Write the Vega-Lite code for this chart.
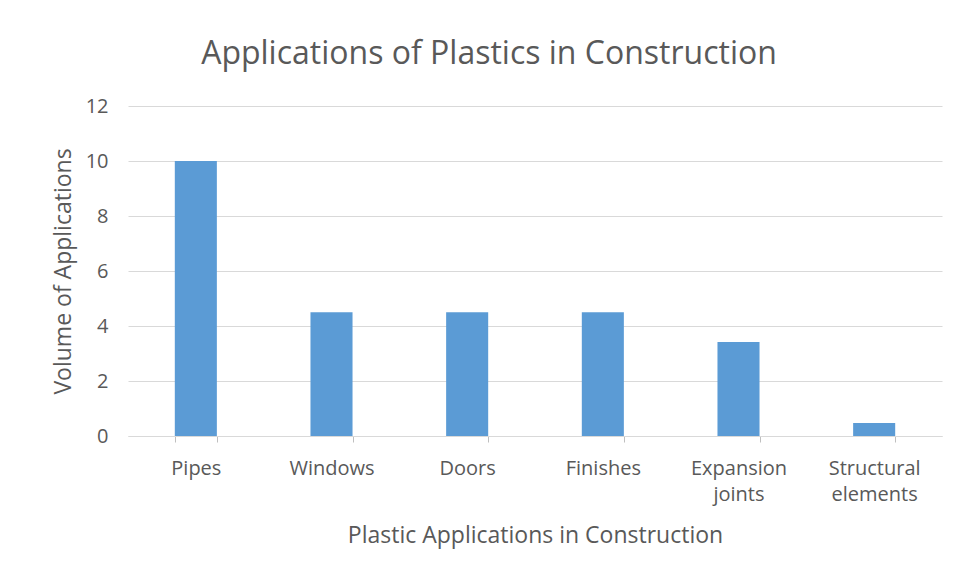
{
  "$schema": "https://vega.github.io/schema/vega-lite/v6.json",
  "width": 814,
  "height": 330,
  "autosize": {"type": "none"},
  "padding": {"left": 128, "top": 106, "right": 17, "bottom": 143},
  "background": "white",
  "title": {
    "text": "Applications of Plastics in Construction",
    "font": "Open Sans",
    "fontSize": 32,
    "fontWeight": "normal",
    "color": "#595959",
    "anchor": "middle",
    "offset": 25,
    "dx": -46
  },
  "data": {
    "values": [
      {"application": "Pipes", "volume": 10},
      {"application": "Windows", "volume": 4.5},
      {"application": "Doors", "volume": 4.5},
      {"application": "Finishes", "volume": 4.5},
      {"application": "Expansion joints", "volume": 3.42},
      {"application": "Structural elements", "volume": 0.47}
    ]
  },
  "mark": {"type": "bar", "color": "#5b9bd5"},
  "encoding": {
    "x": {
      "field": "application",
      "type": "nominal",
      "sort": null,
      "scale": {"paddingInner": 0.69, "paddingOuter": 0.345},
      "axis": {
        "title": "Plastic Applications in Construction",
        "titleFont": "Open Sans",
        "titleFontSize": 23,
        "titleFontWeight": "normal",
        "titleColor": "#595959",
        "titlePadding": 20,
        "labelFont": "Open Sans",
        "labelFontSize": 20,
        "labelColor": "#595959",
        "labelAngle": 0,
        "labelPadding": 16,
        "labelLineHeight": 26,
        "labelExpr": "isValid(datum.value) ? split(datum.value, ' ') : ''",
        "tickBand": "extent",
        "tickColor": "#bfbfbf",
        "tickSize": 6,
        "domainColor": "#d9d9d9",
        "grid": false
      }
    },
    "y": {
      "field": "volume",
      "type": "quantitative",
      "scale": {"domain": [0, 12]},
      "axis": {
        "title": "Volume of Applications",
        "titleFont": "Open Sans",
        "titleFontSize": 23,
        "titleFontWeight": "normal",
        "titleColor": "#595959",
        "titlePadding": 10,
        "values": [0, 2, 4, 6, 8, 10, 12],
        "labelFont": "Open Sans",
        "labelFontSize": 20,
        "labelColor": "#595959",
        "labelPadding": 20,
        "domain": false,
        "ticks": false,
        "gridColor": "#d9d9d9"
      }
    }
  },
  "config": {"view": {"stroke": null}}
}
